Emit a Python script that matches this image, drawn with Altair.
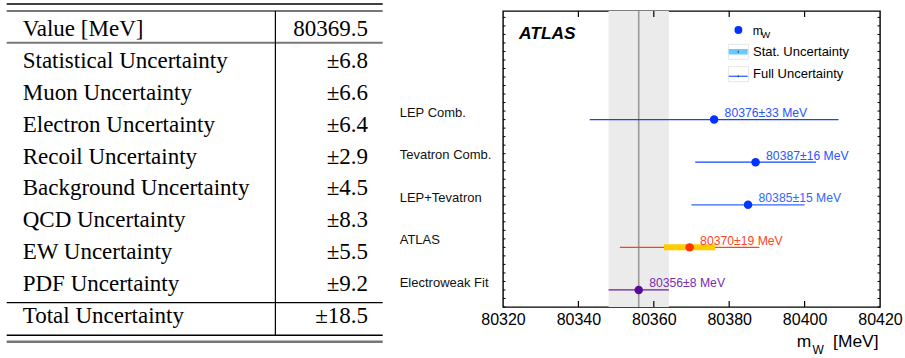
import altair as alt
import pandas as pd

# ---------------- data ----------------
# table (left)
row_labels = ["Value [MeV]", "Statistical Uncertainty", "Muon Uncertainty",
              "Electron Uncertainty", "Recoil Uncertainty", "Background Uncertainty",
              "QCD Uncertainty", "EW Uncertainty", "PDF Uncertainty", "Total Uncertainty"]
row_values = ["80369.5", "±6.8", "±6.6", "±6.4", "±2.9", "±4.5",
              "±8.3", "±5.5", "±9.2", "±18.5"]

# measurements (right)
names = ["LEP Comb.", "Tevatron Comb.", "LEP+Tevatron", "ATLAS", "Electroweak Fit"]
mw = [80376, 80387, 80385, 80369.5, 80356]
full_unc = [33, 16, 15, 18.5, 8]
stat_unc = [0, 0, 0, 6.8, 0]
value_text = ["80376±33 MeV", "80387±16 MeV", "80385±15 MeV", "80370±19 MeV", "80356±8 MeV"]
x_ticks = [80320, 80340, 80360, 80380, 80400, 80420]

# ---------------- styles / layout ----------------
point_colors = ["#0033ff", "#0033ff", "#0038ff", "#ff3300", "#5a0a96"]
line_colors = ["#1144ff", "#1144ff", "#3366ff", "#ff4411", "#6a1aa6"]
text_colors = ["#2a55ff", "#2a55ff", "#3366ff", "#ff4422", "#7a2eb0"]
positions = [4, 3, 2, 1, 0]
y_minor = [round(-0.4 + 0.2 * i, 1) for i in range(35)]

W, H = 377, 296
SANS = "Liberation Sans"
SERIF = "Liberation Serif"

df = pd.DataFrame({
    "name": names, "mw": mw, "full": full_unc, "stat": stat_unc, "txt": value_text,
    "pc": point_colors, "lc": line_colors, "tc": text_colors, "pos": positions,
})
df["lo"] = df["mw"] - df["full"]
df["hi"] = df["mw"] + df["full"]
df["slo"] = df["mw"] - df["stat"]
df["shi"] = df["mw"] + df["stat"]

xs = alt.Scale(domain=[80320, 80420], nice=False, zero=False)
ys = alt.Scale(domain=[-0.4, 6.55], nice=False, zero=False)

label_axis = alt.Axis(orient="bottom", values=x_ticks, ticks=False, domain=False, grid=False,
                      labelFont=SANS, labelFontSize=16, labelColor="black", labelPadding=4,
                      labelFlush=False, labelOverlap=False, format="d", title=None)

base = alt.Chart(df)
ew = base.transform_filter(alt.datum.name == "Electroweak Fit")

band = ew.mark_rect(color="#ebebeb").encode(
    x=alt.X("lo:Q", scale=xs, axis=label_axis), x2="hi:Q")
vline = ew.mark_rule(color="#9a9a9a", strokeWidth=1.6).encode(
    x=alt.X("mw:Q", scale=xs, axis=None))

# inward ticks of the frame
xt = alt.Chart(pd.DataFrame({"t": x_ticks[1:-1]}))
top_t = xt.mark_rule(color="black", strokeWidth=1.2).encode(
    x=alt.X("t:Q", scale=xs, axis=None), y=alt.value(0), y2=alt.value(6))
bot_t = xt.mark_rule(color="black", strokeWidth=1.2).encode(
    x=alt.X("t:Q", scale=xs, axis=None), y=alt.value(H - 6), y2=alt.value(H))
yt = alt.Chart(pd.DataFrame({"t": y_minor}))
left_t = yt.mark_rule(color="black", strokeWidth=1).encode(
    y=alt.Y("t:Q", scale=ys, axis=None), x=alt.value(0), x2=alt.value(2.5))
right_t = yt.mark_rule(color="black", strokeWidth=1).encode(
    y=alt.Y("t:Q", scale=ys, axis=None), x=alt.value(W - 2.5), x2=alt.value(W))

errs = base.mark_rule(strokeWidth=1.3).encode(
    x=alt.X("lo:Q", scale=xs, axis=None), x2="hi:Q",
    y=alt.Y("pos:Q", scale=ys, axis=None),
    color=alt.Color("lc:N", scale=None))
stat = base.transform_filter(alt.datum.stat > 0).mark_rule(strokeWidth=6, color="#ffcc00").encode(
    x=alt.X("slo:Q", scale=xs, axis=None), x2="shi:Q",
    y=alt.Y("pos:Q", scale=ys, axis=None))
pts = base.mark_circle(size=72, opacity=1).encode(
    x=alt.X("mw:Q", scale=xs, axis=None),
    y=alt.Y("pos:Q", scale=ys, axis=None),
    color=alt.Color("pc:N", scale=None))
vals = base.mark_text(align="left", baseline="middle", dx=10.5, dy=-6.5, font=SANS, fontSize=12.2).encode(
    x=alt.X("mw:Q", scale=xs, axis=None),
    y=alt.Y("pos:Q", scale=ys, axis=None),
    text="txt:N", color=alt.Color("tc:N", scale=None))
cats = base.mark_text(align="left", baseline="middle", dy=-7, font=SANS, fontSize=13, color="#111111").encode(
    x=alt.value(-103.3),
    y=alt.Y("pos:Q", scale=ys, axis=None),
    text="name:N")

# annotations
ann = alt.Chart(pd.DataFrame({"a": [0]}))
atlas = ann.mark_text(text="ATLAS", align="left", baseline="middle", font=SANS, fontSize=17.4,
                      fontWeight="bold", fontStyle="italic", color="black").encode(
    x=alt.value(16), y=alt.value(23))
leg_dot = ann.mark_circle(size=62, opacity=1, color="#0033ff").encode(x=alt.value(235.4), y=alt.value(19))
leg_m = ann.mark_text(text="m", align="left", baseline="middle", font=SANS, fontSize=12).encode(
    x=alt.value(249.7), y=alt.value(19.5))
leg_w = ann.mark_text(text="W", align="left", baseline="middle", font=SANS, fontSize=9.5).encode(
    x=alt.value(258.3), y=alt.value(24))
leg_box1 = ann.mark_rect(fill="white", stroke="#e6e6e6", strokeWidth=1).encode(
    x=alt.value(225.4), x2=alt.value(245.4), y=alt.value(33.3), y2=alt.value(48.3))
leg_box2 = ann.mark_rect(fill="white", stroke="#e6e6e6", strokeWidth=1).encode(
    x=alt.value(225.4), x2=alt.value(245.4), y=alt.value(55.7), y2=alt.value(70.7))
leg_stat = ann.mark_rect(color="#66ccff").encode(
    x=alt.value(225.7), x2=alt.value(244.7), y=alt.value(38), y2=alt.value(43.5))
leg_stat_t = ann.mark_rule(color="#333333", strokeWidth=1).encode(
    x=alt.value(235.2), y=alt.value(39.8), y2=alt.value(41.8))
leg_full = ann.mark_rule(color="#3366ff", strokeWidth=1.3).encode(
    x=alt.value(225.7), x2=alt.value(244.7), y=alt.value(65.3))
leg_full_t = ann.mark_rule(color="#333333", strokeWidth=1).encode(
    x=alt.value(235.2), y=alt.value(64.3), y2=alt.value(66.3))
leg_t1 = ann.mark_text(text="Stat. Uncertainty", align="left", baseline="middle", font=SANS, fontSize=13).encode(
    x=alt.value(250), y=alt.value(40.7))
leg_t2 = ann.mark_text(text="Full Uncertainty", align="left", baseline="middle", font=SANS, fontSize=13).encode(
    x=alt.value(250), y=alt.value(63))
ax_m = ann.mark_text(text="m", align="left", baseline="middle", font=SANS, fontSize=17.4).encode(
    x=alt.value(293.7), y=alt.value(330.5))
ax_w = ann.mark_text(text="W", align="left", baseline="middle", font=SANS, fontSize=12).encode(
    x=alt.value(309.4), y=alt.value(338.5))
ax_u = ann.mark_text(text="[MeV]", align="right", baseline="middle", font=SANS, fontSize=17.4).encode(
    x=alt.value(375.5), y=alt.value(330.5))

plot = alt.layer(band, vline, top_t, bot_t, left_t, right_t, errs, stat, pts, vals, cats, atlas,
                 leg_box1, leg_box2, leg_dot, leg_m, leg_w, leg_stat, leg_stat_t,
                 leg_full, leg_full_t, leg_t1, leg_t2, ax_m, ax_w, ax_u
                 ).resolve_axis(x="independent", y="independent")

# ---------------- table ----------------
tdf = pd.DataFrame({"label": row_labels, "value": row_values, "row": list(range(len(row_labels)))})
ts = alt.Scale(domain=[-0.569, 8.721], reverse=True, nice=False, zero=False)
rules_df = pd.DataFrame({
    "r": [-0.79, -0.569, 0.425, 8.586, 9.609, 9.81],
    "c": ["#000000", "#777777", "#777777", "#000000", "#000000", "#777777"],
    "w": [1.4, 2.0, 2.0, 1.2, 1.4, 2.4],
})
tab_labels = alt.Chart(tdf).mark_text(align="left", baseline="middle", font=SERIF, fontSize=23,
                                      color="black").encode(
    x=alt.value(-480.3), y=alt.Y("row:Q", scale=ts, axis=None), text="label:N")
tab_values = alt.Chart(tdf).mark_text(align="right", baseline="middle", font=SERIF, fontSize=23,
                                      color="black").encode(
    x=alt.value(-135), y=alt.Y("row:Q", scale=ts, axis=None), text="value:N")
tab_rules = alt.Chart(rules_df).mark_rule().encode(
    x=alt.value(-496.3), x2=alt.value(-120.3),
    y=alt.Y("r:Q", scale=ts, axis=None),
    color=alt.Color("c:N", scale=None),
    strokeWidth=alt.StrokeWidth("w:Q", scale=None))
tab_vline = alt.Chart(pd.DataFrame({"r0": [-0.569], "r1": [9.609]})).mark_rule(
    color="black", strokeWidth=1.2).encode(
    x=alt.value(-227.6), y=alt.Y("r0:Q", scale=ts, axis=None), y2="r1:Q")
table = alt.layer(tab_rules, tab_vline, tab_labels, tab_values)

chart = alt.layer(table, plot).resolve_scale(y="independent").properties(
    width=W, height=H,
    autosize=alt.AutoSizeParams(type="none"),
    padding={"left": 503, "top": 11, "right": 25, "bottom": 51},
    background="white",
).configure_view(stroke="black", strokeWidth=1.4)

chart.save("out.html", embed_options={"renderer": "svg", "actions": False})
